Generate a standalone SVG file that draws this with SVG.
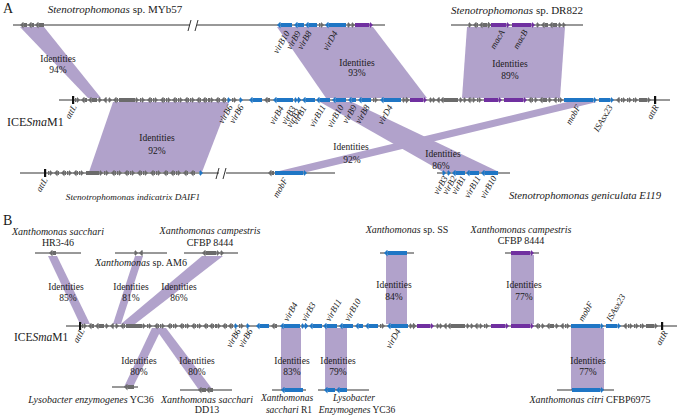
<svg xmlns="http://www.w3.org/2000/svg" xmlns:xlink="http://www.w3.org/1999/xlink" width="677" height="416" viewBox="0 0 677 416" font-family="'Liberation Serif','Times New Roman',serif">
<style>
text{font-family:"Liberation Serif","Times New Roman",serif;fill:#1a1a1a}
.i{font-style:italic}
.id{font-size:9.5px;text-anchor:middle}
.gl{font-size:9px;font-style:italic}
.ge{text-anchor:end}
.sp{font-size:11px}
.sb{font-size:10px;text-anchor:middle}
.sm{font-size:9.5px;text-anchor:middle}
.ln{stroke:#333;stroke-width:1}
.g{stroke:#6b6b6b;stroke-width:4;marker-end:url(#mg)}
.b{stroke:#1f76c5;stroke-width:4;marker-end:url(#mb)}
.p{stroke:#7030a0;stroke-width:4;marker-end:url(#mp)}
.band{fill:#b1a2cb}
.att{fill:#111}
</style>
<defs>
<marker id="mg" viewBox="0 0 3.5 7" refX="0" refY="3.5" markerWidth="3.5" markerHeight="7" markerUnits="userSpaceOnUse" orient="auto"><path d="M0,0L3.5,3.5L0,7Z" fill="#6b6b6b"/></marker>
<marker id="mb" viewBox="0 0 3.5 7" refX="0" refY="3.5" markerWidth="3.5" markerHeight="7" markerUnits="userSpaceOnUse" orient="auto"><path d="M0,0L3.5,3.5L0,7Z" fill="#1f76c5"/></marker>
<marker id="mp" viewBox="0 0 3.5 7" refX="0" refY="3.5" markerWidth="3.5" markerHeight="7" markerUnits="userSpaceOnUse" orient="auto"><path d="M0,0L3.5,3.5L0,7Z" fill="#7030a0"/></marker>
<g id="iceGenes">
<line class="ln" x1="59" y1="0" x2="670" y2="0"/>
<rect class="att" x="72" y="-4" width="2.2" height="8"/>
<rect class="att" x="654" y="-4" width="2.2" height="8"/>
<line class="g" x1="75" y1="0" x2="76.5" y2="0"/>
<line class="g" x1="87" y1="0" x2="84.5" y2="0"/>
<line class="g" x1="97" y1="0" x2="91.5" y2="0"/>
<line class="g" x1="98" y1="0" x2="98.5" y2="0"/>
<line class="g" x1="107" y1="0" x2="106.5" y2="0"/>
<line class="g" x1="108" y1="0" x2="108.5" y2="0"/>
<line class="g" x1="118" y1="0" x2="116.5" y2="0"/>
<line class="g" x1="119" y1="0" x2="135.5" y2="0"/>
<line class="g" x1="140" y1="0" x2="141.5" y2="0"/>
<line class="g" x1="152" y1="0" x2="150.5" y2="0"/>
<line class="g" x1="153" y1="0" x2="154.5" y2="0"/>
<line class="g" x1="165" y1="0" x2="163.5" y2="0"/>
<line class="g" x1="166" y1="0" x2="167.5" y2="0"/>
<line class="g" x1="177" y1="0" x2="175.5" y2="0"/>
<line class="g" x1="178" y1="0" x2="179.5" y2="0"/>
<line class="g" x1="189" y1="0" x2="187.5" y2="0"/>
<line class="g" x1="190" y1="0" x2="191.5" y2="0"/>
<line class="g" x1="201" y1="0" x2="199.5" y2="0"/>
<line class="g" x1="207" y1="0" x2="205.5" y2="0"/>
<line class="g" x1="208" y1="0" x2="210.5" y2="0"/>
<line class="g" x1="220" y1="0" x2="218.5" y2="0"/>
<line class="g" x1="226" y1="0" x2="224.5" y2="0"/>
<line class="b" x1="227" y1="0" x2="227.5" y2="0"/>
<line class="g" x1="232" y1="0" x2="233.5" y2="0"/>
<line class="b" x1="239" y1="0" x2="239.5" y2="0"/>
<line class="b" x1="262" y1="0" x2="252.5" y2="0"/>
<line class="g" x1="270" y1="0" x2="267.5" y2="0"/>
<line class="b" x1="293" y1="0" x2="276.5" y2="0"/>
<line class="b" x1="294" y1="0" x2="294.5" y2="0"/>
<line class="b" x1="297.5" y1="0" x2="298" y2="0"/>
<line class="b" x1="315" y1="0" x2="305.5" y2="0"/>
<line class="b" x1="330" y1="0" x2="319.5" y2="0"/>
<line class="b" x1="346" y1="0" x2="335.5" y2="0"/>
<line class="b" x1="356" y1="0" x2="351.5" y2="0"/>
<line class="b" x1="371" y1="0" x2="361.5" y2="0"/>
<line class="g" x1="373" y1="0" x2="374.5" y2="0"/>
<line class="b" x1="401" y1="0" x2="383.5" y2="0"/>
<line class="g" x1="402" y1="0" x2="402.5" y2="0"/>
<line class="g" x1="405.5" y1="0" x2="406" y2="0"/>
<line class="p" x1="410" y1="0" x2="423.5" y2="0"/>
<line class="g" x1="429" y1="0" x2="429.5" y2="0"/>
<line class="g" x1="432" y1="0" x2="432.5" y2="0"/>
<line class="g" x1="440" y1="0" x2="439.5" y2="0"/>
<line class="g" x1="458" y1="0" x2="443.5" y2="0"/>
<line class="g" x1="459" y1="0" x2="459.5" y2="0"/>
<line class="g" x1="463" y1="0" x2="463.5" y2="0"/>
<line class="g" x1="471" y1="0" x2="470.5" y2="0"/>
<line class="g" x1="471.5" y1="0" x2="472.5" y2="0"/>
<line class="g" x1="477" y1="0" x2="478.5" y2="0"/>
<line class="p" x1="484" y1="0" x2="498.5" y2="0"/>
<line class="p" x1="504" y1="0" x2="523.5" y2="0"/>
<line class="g" x1="533" y1="0" x2="531.5" y2="0"/>
<line class="g" x1="534" y1="0" x2="534.5" y2="0"/>
<line class="g" x1="547" y1="0" x2="542.5" y2="0"/>
<line class="g" x1="548" y1="0" x2="548.5" y2="0"/>
<line class="g" x1="557" y1="0" x2="556.5" y2="0"/>
<line class="g" x1="558" y1="0" x2="559.5" y2="0"/>
<line class="b" x1="564" y1="0" x2="593.5" y2="0"/>
<line class="b" x1="599" y1="0" x2="610.5" y2="0"/>
<line class="g" x1="620" y1="0" x2="619.5" y2="0"/>
<line class="g" x1="621" y1="0" x2="622.5" y2="0"/>
<line class="g" x1="627" y1="0" x2="628.5" y2="0"/>
<line class="g" x1="633" y1="0" x2="634.5" y2="0"/>
<line class="g" x1="639" y1="0" x2="647.5" y2="0"/>
</g>
</defs>
<rect width="677" height="416" fill="#fff"/>

<g id="connectors">
<polygon class="band" points="20,27 44,27 101,98 88,98"/>
<polygon class="band" points="277,27 373,27 427,98 326,98"/>
<polygon class="band" points="467,27 565,27 560,98 462,98"/>
<polygon class="band" points="113,102 229,102 202,172 89,172"/>
<polygon class="band" points="567,102 597,102 307,172 275,172"/>
<polygon class="band" points="320,102 352,102 499,172 443,172"/>
<polygon class="band" points="48,256 57,256 90,324 80,324"/>
<polygon class="band" points="135,256 143,256 121,324 113,324"/>
<polygon class="band" points="202,256 223,256 135,324 121,324"/>
<rect class="band" x="386" y="255" width="21" height="69"/>
<rect class="band" x="511" y="255" width="23" height="69"/>
<polygon class="band" points="152,328 162,328 133,387 124,387"/>
<polygon class="band" points="155,328 166,328 213,390 199,390"/>
<rect class="band" x="281" y="328" width="20" height="62"/>
<rect class="band" x="325" y="328" width="22" height="62"/>
<rect class="band" x="571" y="328" width="33" height="62"/>
</g>

<g id="identity-labels">
<text class="id" x="58" y="61.5">Identities</text><text class="id" x="58" y="72.5">94%</text>
<text class="id" x="357" y="65.5">Identities</text><text class="id" x="357" y="76">93%</text>
<text class="id" x="510" y="66.5">Identities</text><text class="id" x="510" y="78.5">89%</text>
<text class="id" x="157" y="140.5">Identities</text><text class="id" x="157" y="153.5">92%</text>
<text class="id" x="351" y="150">Identities</text><text class="id" x="352" y="162.5">92%</text>
<text class="id" x="443" y="156.5">Identities</text><text class="id" x="441" y="168.5">86%</text>
<text class="id" x="66" y="289.5">Identities</text><text class="id" x="68" y="301">85%</text>
<text class="id" x="131" y="289.5">Identities</text><text class="id" x="131" y="301">81%</text>
<text class="id" x="179" y="289.5">Identities</text><text class="id" x="179" y="301">86%</text>
<text class="id" x="394" y="287.5">Identities</text><text class="id" x="394" y="299.5">84%</text>
<text class="id" x="524" y="287.5">Identities</text><text class="id" x="524" y="299.5">77%</text>
<text class="id" x="139" y="363.5">Identities</text><text class="id" x="139" y="374.5">80%</text>
<text class="id" x="197" y="363.5">Identities</text><text class="id" x="197" y="374.5">80%</text>
<text class="id" x="292" y="363.5">Identities</text><text class="id" x="292" y="374.5">83%</text>
<text class="id" x="338" y="363.5">Identities</text><text class="id" x="338" y="374.5">79%</text>
<text class="id" x="588" y="363.5">Identities</text><text class="id" x="588" y="374.5">77%</text>
</g>

<text x="3" y="13" font-size="14">A</text>
<text x="3" y="225" font-size="14">B</text>

<g id="MYb57">
<text class="sp" x="115" y="13" text-anchor="middle"><tspan class="i">Stenotrophomonas</tspan> sp. MYb57</text>
<line class="ln" x1="13" y1="25" x2="190" y2="25"/>
<line class="ln" x1="197" y1="25" x2="385" y2="25"/>
<line class="ln" x1="188" y1="31" x2="191" y2="20"/>
<line class="ln" x1="195" y1="31" x2="198" y2="20"/>
<g transform="translate(0,25)">
<line class="g" x1="27" y1="0" x2="23.5" y2="0"/>
<line class="g" x1="34" y1="0" x2="31.5" y2="0"/>
<line class="g" x1="44" y1="0" x2="38.5" y2="0"/>
<line class="b" x1="292" y1="0" x2="280.5" y2="0"/>
<line class="b" x1="304" y1="0" x2="297.5" y2="0"/>
<line class="b" x1="317" y1="0" x2="308.5" y2="0"/>
<line class="g" x1="319" y1="0" x2="320.5" y2="0"/>
<line class="b" x1="346" y1="0" x2="328.5" y2="0"/>
<line class="g" x1="347" y1="0" x2="347.5" y2="0"/>
<line class="g" x1="351" y1="0" x2="351.5" y2="0"/>
<line class="p" x1="355" y1="0" x2="369.5" y2="0"/>
</g>
<text class="gl ge" transform="translate(290,33) rotate(-60)">virB10</text>
<text class="gl ge" transform="translate(301,33) rotate(-60)">virB9</text>
<text class="gl ge" transform="translate(312,33) rotate(-60)">virB8</text>
<text class="gl ge" transform="translate(338,33) rotate(-60)">virD4</text>
</g>

<g id="DR822">
<text class="sp" x="517" y="14" text-anchor="middle"><tspan class="i">Stenotrophomonas</tspan> sp. DR822</text>
<line class="ln" x1="451" y1="25" x2="583" y2="25"/>
<g transform="translate(0,25)">
<line class="g" x1="468" y1="0" x2="468.5" y2="0"/>
<line class="g" x1="478" y1="0" x2="476.5" y2="0"/>
<line class="g" x1="487" y1="0" x2="482.5" y2="0"/>
<line class="g" x1="487.5" y1="0" x2="488" y2="0"/>
<line class="p" x1="491" y1="0" x2="506.5" y2="0"/>
<line class="p" x1="512" y1="0" x2="531.5" y2="0"/>
<line class="g" x1="536" y1="0" x2="536.5" y2="0"/>
<line class="g" x1="548" y1="0" x2="544.5" y2="0"/>
<line class="g" x1="557" y1="0" x2="552.5" y2="0"/>
<line class="g" x1="558" y1="0" x2="558.5" y2="0"/>
<line class="g" x1="562" y1="0" x2="562.5" y2="0"/>
</g>
<text class="gl ge" transform="translate(505,32) rotate(-60)">macA</text>
<text class="gl ge" transform="translate(528,32) rotate(-60)">macB</text>
</g>

<g id="ICESmaM1-A">
<use xlink:href="#iceGenes" transform="translate(0,100)"/>
<text x="7" y="126" font-size="12">ICE<tspan class="i">Sma</tspan>M1</text>
<text class="gl ge" transform="translate(77,107) rotate(-60)">attL</text>
<text class="gl ge" transform="translate(233,107) rotate(-60)">virB6</text>
<text class="gl ge" transform="translate(244,107) rotate(-60)">virB6</text>
<text class="gl ge" transform="translate(284,108) rotate(-60)">virB4</text>
<text class="gl ge" transform="translate(296,108) rotate(-60)">virB3</text>
<text class="gl ge" transform="translate(301,111) rotate(-60)">virB2</text>
<text class="gl ge" transform="translate(307,108) rotate(-60)">virB1</text>
<text class="gl ge" transform="translate(326,107) rotate(-60)">virB11</text>
<text class="gl ge" transform="translate(344,107) rotate(-60)">virB10</text>
<text class="gl ge" transform="translate(357,107) rotate(-60)">virB9</text>
<text class="gl ge" transform="translate(370,107) rotate(-60)">virB8</text>
<text class="gl ge" transform="translate(393,107) rotate(-60)">virD4</text>
<text class="gl ge" transform="translate(581,107) rotate(-60)">mobF</text>
<text class="gl ge" transform="translate(613,107) rotate(-60)">ISAsx23</text>
<text class="gl ge" transform="translate(659,107) rotate(-60)">attR</text>
</g>

<g id="DAIF1">
<line class="ln" x1="20" y1="173" x2="219" y2="173"/>
<line class="ln" x1="226" y1="173" x2="335" y2="173"/>
<line class="ln" x1="216" y1="179" x2="219" y2="168"/>
<line class="ln" x1="223" y1="179" x2="226" y2="168"/>
<rect class="att" x="44" y="169" width="2.2" height="8"/>
<g transform="translate(0,173)">
<line class="g" x1="48" y1="0" x2="49.5" y2="0"/>
<line class="g" x1="59" y1="0" x2="57.5" y2="0"/>
<line class="g" x1="66" y1="0" x2="64.5" y2="0"/>
<line class="g" x1="67" y1="0" x2="68.5" y2="0"/>
<line class="g" x1="78" y1="0" x2="76.5" y2="0"/>
<line class="g" x1="79" y1="0" x2="80.5" y2="0"/>
<line class="g" x1="86" y1="0" x2="99.5" y2="0"/>
<line class="g" x1="104" y1="0" x2="105.5" y2="0"/>
<line class="g" x1="116" y1="0" x2="114.5" y2="0"/>
<line class="g" x1="117" y1="0" x2="118.5" y2="0"/>
<line class="g" x1="129" y1="0" x2="127.5" y2="0"/>
<line class="g" x1="130" y1="0" x2="131.5" y2="0"/>
<line class="g" x1="142" y1="0" x2="140.5" y2="0"/>
<line class="g" x1="143" y1="0" x2="144.5" y2="0"/>
<line class="g" x1="155" y1="0" x2="153.5" y2="0"/>
<line class="g" x1="156" y1="0" x2="157.5" y2="0"/>
<line class="g" x1="168" y1="0" x2="166.5" y2="0"/>
<line class="g" x1="175" y1="0" x2="173.5" y2="0"/>
<line class="g" x1="176" y1="0" x2="177.5" y2="0"/>
<line class="g" x1="188" y1="0" x2="186.5" y2="0"/>
<line class="g" x1="195" y1="0" x2="193.5" y2="0"/>
<line class="b" x1="199" y1="0" x2="199.5" y2="0"/>
<line class="g" x1="274" y1="0" x2="271.5" y2="0"/>
<line class="b" x1="275" y1="0" x2="303.5" y2="0"/>
</g>
<text class="gl ge" transform="translate(48,180) rotate(-60)">attL</text>
<text class="gl ge" transform="translate(288,180) rotate(-60)">mobF</text>
<text class="i" x="133" y="200" font-size="9.2" text-anchor="middle">Stenotrophomonas indicatrix DAIF1</text>
</g>

<g id="E119">
<line class="ln" x1="437" y1="173" x2="510" y2="173"/>
<g transform="translate(0,173)">
<line class="b" x1="442" y1="0" x2="442.5" y2="0"/>
<line class="b" x1="447" y1="0" x2="447.5" y2="0"/>
<line class="b" x1="465" y1="0" x2="455.5" y2="0"/>
<line class="b" x1="479" y1="0" x2="469.5" y2="0"/>
<line class="b" x1="498" y1="0" x2="484.5" y2="0"/>
</g>
<text class="gl ge" transform="translate(448,178) rotate(-60)">virB3</text>
<text class="gl ge" transform="translate(457,178) rotate(-60)">virB2</text>
<text class="gl ge" transform="translate(466,178) rotate(-60)">virB1</text>
<text class="gl ge" transform="translate(481,178) rotate(-60)">virB11</text>
<text class="gl ge" transform="translate(497,178) rotate(-60)">virB10</text>
<text class="i" x="509" y="199" font-size="10.7">Stenotrophomonas geniculata E119</text>
</g>

<g id="HR3-46">
<text class="sb" x="58" y="235"><tspan class="i">Xanthomonas sacchari</tspan></text>
<text class="sb" x="58" y="246">HR3-46</text>
<line class="ln" x1="35" y1="253" x2="81" y2="253"/>
<line class="g" x1="56" y1="253" x2="52.5" y2="253"/>
</g>
<g id="AM6">
<line class="ln" x1="115" y1="253" x2="167" y2="253"/>
<line class="g" x1="134" y1="253" x2="134.5" y2="253"/>
<line class="g" x1="143" y1="253" x2="142.5" y2="253"/>
<text class="sb" x="141" y="266"><tspan class="i">Xanthomonas</tspan> sp. AM6</text>
</g>
<g id="CFBP8444-a">
<text class="sb" x="210" y="234"><tspan class="i">Xanthomonas campestris</tspan></text>
<text class="sb" x="210" y="245.5">CFBP 8444</text>
<line class="ln" x1="184" y1="253" x2="238" y2="253"/>
<line class="g" x1="208" y1="253" x2="205.5" y2="253"/>
<line class="g" x1="208" y1="253" x2="216.5" y2="253"/>
<line class="g" x1="220" y1="253" x2="220.5" y2="253"/>
</g>
<g id="SS">
<text class="sb" x="407" y="233"><tspan class="i">Xanthomonas</tspan> sp. SS</text>
<line class="ln" x1="380" y1="253" x2="414" y2="253"/>
<line class="b" x1="407" y1="253" x2="387.5" y2="253"/>
</g>
<g id="CFBP8444-b">
<text class="sb" x="521" y="233"><tspan class="i">Xanthomonas campestris</tspan></text>
<text class="sb" x="521" y="244">CFBP 8444</text>
<line class="ln" x1="505" y1="253" x2="539" y2="253"/>
<line class="p" x1="511" y1="253" x2="530.5" y2="253"/>
</g>

<g id="ICESmaM1-B">
<use xlink:href="#iceGenes" transform="translate(7,326)"/>
<text x="14" y="341" font-size="11.5">ICE<tspan class="i">Sma</tspan>M1</text>
<text class="gl" transform="translate(288,322) rotate(-60)">virB4</text>
<text class="gl" transform="translate(306,322) rotate(-60)">virB3</text>
<text class="gl" transform="translate(330,322) rotate(-60)">virB11</text>
<text class="gl" transform="translate(349,322) rotate(-60)">virB10</text>
<text class="gl" transform="translate(583,322) rotate(-60)">mobF</text>
<text class="gl" transform="translate(611,322) rotate(-60)">ISAsx23</text>
<text class="gl ge" transform="translate(85,331) rotate(-60)">attL</text>
<text class="gl ge" transform="translate(241,331) rotate(-60)">virB6</text>
<text class="gl ge" transform="translate(253,331) rotate(-60)">virB6</text>
<text class="gl ge" transform="translate(401,331) rotate(-60)">virD4</text>
<text class="gl ge" transform="translate(668,333) rotate(-60)">attR</text>
</g>

<g id="YC36-a">
<line class="ln" x1="112" y1="387" x2="138" y2="387"/>
<line class="g" x1="134" y1="387" x2="127.5" y2="387"/>
<text class="sb" x="91" y="402.5"><tspan class="i">Lysobacter enzymogenes</tspan> YC36</text>
</g>
<g id="DD13">
<line class="ln" x1="180" y1="390" x2="232" y2="390"/>
<line class="g" x1="206" y1="390" x2="201.5" y2="390"/>
<line class="g" x1="213" y1="390" x2="209.5" y2="390"/>
<text class="sb" x="207" y="402.5"><tspan class="i">Xanthomonas sacchari</tspan></text>
<text class="sb" x="207" y="413">DD13</text>
</g>
<g id="R1">
<line class="ln" x1="272" y1="390" x2="306" y2="390"/>
<line class="b" x1="303" y1="390" x2="284.5" y2="390"/>
<text class="sm i" x="287" y="401">Xanthomonas</text>
<text class="sm" x="289" y="413"><tspan class="i">sacchari</tspan> R1</text>
</g>
<g id="YC36-b">
<line class="ln" x1="318" y1="390" x2="369" y2="390"/>
<line class="b" x1="335" y1="390" x2="327.5" y2="390"/>
<line class="b" x1="347" y1="390" x2="339.5" y2="390"/>
<text class="sm i" x="354" y="401">Lysobacter</text>
<text class="sm" x="357" y="413"><tspan class="i">Enzymogenes</tspan>  YC36</text>
</g>
<g id="CFBP6975">
<line class="ln" x1="557" y1="390" x2="614" y2="390"/>
<line class="b" x1="572" y1="390" x2="600.5" y2="390"/>
<text class="sb" x="590" y="402.5"><tspan class="i">Xanthomonas citri</tspan> CFBP6975</text>
</g>
</svg>
